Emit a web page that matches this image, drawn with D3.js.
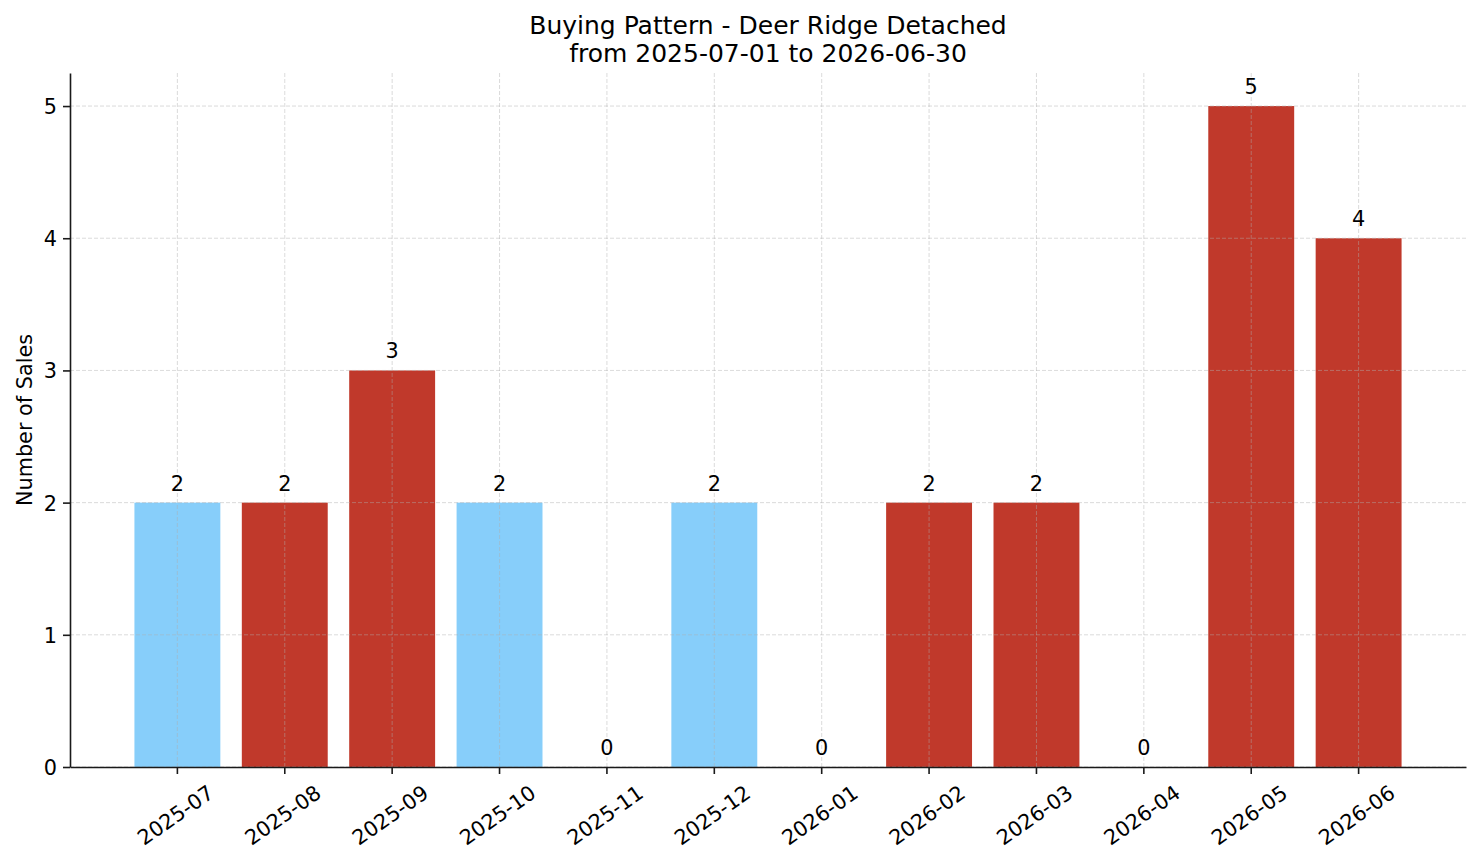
<!DOCTYPE html>
<html>
<head>
<meta charset="utf-8">
<script src="https://cdn.jsdelivr.net/npm/d3@7"></script>
<style>
  body { margin: 0; background: #fff; }
  svg text { font-family: "DejaVu Sans", sans-serif; fill: #000; }
</style>
</head>
<body>
<svg id="chart" width="1481" height="863"></svg>
<script>
// data
var months = ["2025-07", "2025-08", "2025-09", "2025-10", "2025-11", "2025-12",
              "2026-01", "2026-02", "2026-03", "2026-04", "2026-05", "2026-06"];
var sales = [2, 2, 3, 2, 0, 2, 0, 2, 2, 0, 5, 4];
var group = ["A", "B", "B", "A", "B", "A", "B", "B", "B", "B", "B", "B"];
var yTicks = [0, 1, 2, 3, 4, 5];
var titleLines = ["Buying Pattern - Deer Ridge Detached", "from 2025-07-01 to 2026-06-30"];

var svg = d3.select("#chart"),
    margin = {top: 73, right: 15, bottom: 96, left: 70},
    width = 1481,
    height = 863,
    x0 = margin.left, x1 = width - margin.right,
    y0 = height - margin.bottom, y1 = margin.top,
    fontSize = 20.8;

var data = months.map(function(m, i) { return {month: m, value: sales[i], group: group[i]}; });

var x = d3.scaleBand()
    .domain(months)
    .range([x0, x1])
    .paddingInner(0.2)
    .paddingOuter(0.6);

var y = d3.scaleLinear()
    .domain([0, 5.25])
    .range([y0, y1]);

var color = d3.scaleOrdinal()
    .domain(["A", "B"])
    .range(["#87CEFA", "#C0392B"]);

// bars
svg.append("g").attr("class", "bars")
    .selectAll("rect")
    .data(data)
    .enter()
    .append("rect")
    .attr("x", function(d) { return x(d.month); })
    .attr("width", x.bandwidth())
    .attr("y", function(d) { return y(d.value); })
    .attr("height", function(d) { return y(0) - y(d.value); })
    .attr("fill", function(d) { return color(d.group); });

// grid on top of bars (as in the picture)
var grid = svg.append("g").attr("class", "grid")
    .attr("stroke", "#b0b0b0")
    .attr("stroke-opacity", 0.5)
    .attr("stroke-width", 0.9)
    .attr("stroke-dasharray", "4,2");

grid.selectAll("line.h")
    .data(yTicks)
    .enter().append("line")
    .attr("class", "h")
    .attr("x1", x0).attr("x2", x1)
    .attr("y1", function(d) { return y(d); })
    .attr("y2", function(d) { return y(d); });

grid.selectAll("line.v")
    .data(months)
    .enter().append("line")
    .attr("class", "v")
    .attr("y1", y0).attr("y2", y1)
    .attr("x1", function(d) { return x(d) + x.bandwidth() / 2; })
    .attr("x2", function(d) { return x(d) + x.bandwidth() / 2; });

// value labels
svg.append("g").attr("class", "values")
    .selectAll("text")
    .data(data)
    .enter()
    .append("text")
    .attr("x", function(d) { return x(d.month) + x.bandwidth() / 2; })
    .attr("y", function(d) { return y(d.value) - 12; })
    .attr("text-anchor", "middle")
    .style("font-size", fontSize + "px")
    .text(function(d) { return d.value; });

// axes
var yAxis = d3.axisLeft(y).tickValues(yTicks).tickSize(7).tickSizeOuter(0).tickPadding(6)
    .tickFormat(d3.format("d"));
var xAxis = d3.axisBottom(x).tickSize(7).tickSizeOuter(0);

var gy = svg.append("g")
    .attr("transform", "translate(" + x0 + ",0)")
    .call(yAxis);

var gx = svg.append("g")
    .attr("transform", "translate(0," + y0 + ")")
    .call(xAxis);

[gx, gy].forEach(function(g) {
    g.select(".domain").attr("stroke", "#1a1a1a").attr("stroke-width", 1.6);
    g.selectAll(".tick line").attr("stroke", "#1a1a1a").attr("stroke-width", 1.6);
    g.selectAll(".tick text")
        .style("font-family", "'DejaVu Sans', sans-serif")
        .style("font-size", fontSize + "px")
        .attr("fill", "#000");
});

gy.selectAll(".tick text").attr("dy", "0.36em");

gx.selectAll(".tick text")
    .attr("y", 0)
    .attr("dy", "0.36em")
    .attr("text-anchor", "middle")
    .attr("transform", "translate(-2,48) rotate(-35)");

// y label
svg.append("text")
    .attr("transform", "translate(32," + ((y0 + y1) / 2) + ") rotate(-90)")
    .attr("text-anchor", "middle")
    .style("font-size", fontSize + "px")
    .text("Number of Sales");

// title
svg.append("g").attr("class", "title")
    .selectAll("text")
    .data(titleLines)
    .enter()
    .append("text")
    .attr("x", (x0 + x1) / 2)
    .attr("y", function(d, i) { return 34 + i * 28; })
    .attr("text-anchor", "middle")
    .style("font-size", "25px")
    .text(function(d) { return d; });
</script>
</body>
</html>
